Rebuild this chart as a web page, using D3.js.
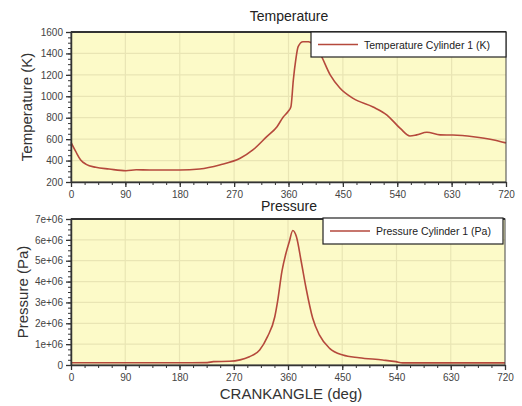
<!DOCTYPE html>
<html>
<head>
<meta charset="utf-8">
<script src="https://cdn.jsdelivr.net/npm/d3@7"></script>
<style>
  body { margin: 0; background: #fff; }
  svg text { font-family: "Liberation Sans", Arial, sans-serif; }
</style>
</head>
<body>
<svg id="chart" width="522" height="406"></svg>
<script>
// crank angle / temperature
const tempAngle = [0, 8, 16, 25, 41, 63, 91, 108, 130, 180, 213, 246, 280, 301, 324, 341, 351, 359, 364, 368, 372, 376, 384, 393, 400, 412, 429, 445, 467, 500, 523, 545, 561, 572, 589, 611, 632, 666, 698, 720];
const tempValue = [570, 483, 405, 365, 337, 321, 305, 314, 312, 312, 322, 359, 421, 499, 623, 716, 804, 856, 903, 1152, 1339, 1463, 1509, 1509, 1490, 1400, 1200, 1077, 980, 900, 825, 700, 630, 640, 665, 640, 638, 622, 595, 565];

// crank angle / pressure
const presAngle = [0, 100, 200, 226, 236, 263, 296, 313, 326, 338, 343, 350, 357, 362, 368, 374, 382, 390, 401, 412, 429, 451, 478, 517, 539, 550, 600, 720];
const presValue = [1.1e5, 1.1e5, 1.1e5, 1.15e5, 1.6e5, 1.8e5, 4.0e5, 7.2e5, 1.36e6, 2.3e6, 3.1e6, 4.5e6, 5.4e6, 5.9e6, 6.45e6, 6.15e6, 4.95e6, 3.68e6, 2.24e6, 1.44e6, 8.0e5, 4.8e5, 3.5e5, 2.4e5, 1.6e5, 1.0e5, 1.0e5, 1.0e5];

const xTicks = [0, 90, 180, 270, 360, 450, 540, 630, 720];
const tempTicks = [200, 400, 600, 800, 1000, 1200, 1400, 1600];
const presTicks = [0, 1e6, 2e6, 3e6, 4e6, 5e6, 6e6, 7e6];
const presTickLabels = ["0", "1e+06", "2e+06", "3e+06", "4e+06", "5e+06", "6e+06", "7e+06"];

const svg = d3.select("#chart");
const lineColor = "#b5493c";
const bg = "#fcfac8";
const gridColor = "#e9e5b4";

function panel(opts) {
    const { top, bottom, left, right, yDomain, yTicks, yMinorStep, yFormat, xs, ys, title, titleY, yLabel, yLabelX, legend, legendBox } = opts;
    const x = d3.scaleLinear().domain([0, 720]).range([left, right]);
    const y = d3.scaleLinear().domain(yDomain).range([bottom, top]);
    const g = svg.append("g");

    g.append("rect")
        .attr("x", left).attr("y", top)
        .attr("width", right - left).attr("height", bottom - top)
        .attr("fill", bg);

    // faint grid
    g.selectAll(".vg").data(xTicks.slice(1, -1)).enter().append("line")
        .attr("x1", d => x(d)).attr("x2", d => x(d))
        .attr("y1", top).attr("y2", bottom)
        .attr("stroke", gridColor).attr("stroke-width", 1.2);
    g.selectAll(".hg").data(yTicks.slice(1, -1)).enter().append("line")
        .attr("x1", left).attr("x2", right)
        .attr("y1", d => y(d)).attr("y2", d => y(d))
        .attr("stroke", gridColor).attr("stroke-width", 1.2);

    // curve
    const line = d3.line()
        .x((d, i) => x(xs[i]))
        .y(d => y(d))
        .curve(d3.curveMonotoneX);
    g.append("path")
        .datum(ys)
        .attr("d", line)
        .attr("fill", "none")
        .attr("stroke", lineColor)
        .attr("stroke-width", 1.6);

    // frame
    g.append("rect")
        .attr("x", left).attr("y", top)
        .attr("width", right - left).attr("height", bottom - top)
        .attr("fill", "none").attr("stroke", "#444").attr("stroke-width", 1);
    g.append("line")
        .attr("x1", left).attr("x2", right).attr("y1", top).attr("y2", top)
        .attr("stroke", "#333").attr("stroke-width", 2);

    // x axis with minor ticks
    const xMinor = d3.range(0, 720.1, 22.5);
    g.append("g")
        .attr("transform", `translate(0,${bottom})`)
        .call(d3.axisBottom(x).tickValues(xMinor).tickSize(3).tickFormat(""))
        .call(a => a.select(".domain").remove())
        .selectAll("line").attr("stroke", "#333");
    const xa = g.append("g")
        .attr("transform", `translate(0,${bottom})`)
        .call(d3.axisBottom(x).tickValues(xTicks).tickSize(5).tickSizeOuter(0).tickPadding(4));
    xa.select(".domain").attr("stroke", "#333").attr("stroke-width", 1.5);
    xa.selectAll("line").attr("stroke", "#333").attr("stroke-width", 1.3);
    xa.selectAll("text").attr("font-size", 10).attr("fill", "#444");

    // y axis with minor ticks
    const yMinor = d3.range(yDomain[0], yDomain[1] + 1, yMinorStep);
    g.append("g")
        .attr("transform", `translate(${left},0)`)
        .call(d3.axisLeft(y).tickValues(yMinor).tickSize(3).tickFormat(""))
        .call(a => a.select(".domain").remove())
        .selectAll("line").attr("stroke", "#333");
    const ya = g.append("g")
        .attr("transform", `translate(${left},0)`)
        .call(d3.axisLeft(y).tickValues(yTicks).tickSize(5).tickSizeOuter(0).tickPadding(3).tickFormat(yFormat));
    ya.select(".domain").attr("stroke", "#333").attr("stroke-width", 1.5);
    ya.selectAll("line").attr("stroke", "#333").attr("stroke-width", 1.3);
    ya.selectAll("text").attr("font-size", 10).attr("fill", "#444");

    // titles
    svg.append("text")
        .attr("x", 289).attr("y", titleY)
        .attr("text-anchor", "middle")
        .attr("font-size", 14).attr("fill", "#222")
        .text(title);
    svg.append("text")
        .attr("transform", `translate(${yLabelX},${(top + bottom) / 2}) rotate(-90)`)
        .attr("text-anchor", "middle")
        .attr("font-size", 15).attr("fill", "#333")
        .text(yLabel);

    // legend
    const lg = svg.append("g");
    lg.append("rect")
        .attr("x", legendBox.x).attr("y", legendBox.y)
        .attr("width", legendBox.w).attr("height", legendBox.h)
        .attr("fill", "#fff").attr("stroke", "#222").attr("stroke-width", 1.2);
    lg.append("line")
        .attr("x1", legendBox.x + 7).attr("x2", legendBox.x + 47)
        .attr("y1", legendBox.y + legendBox.h / 2).attr("y2", legendBox.y + legendBox.h / 2)
        .attr("stroke", lineColor).attr("stroke-width", 1.6);
    lg.append("text")
        .attr("x", legendBox.x + 53).attr("y", legendBox.y + legendBox.h / 2 + 4)
        .attr("font-size", 10.5).attr("fill", "#222")
        .text(legend);
}

panel({
    top: 32, bottom: 182, left: 71, right: 506,
    yDomain: [200, 1600], yTicks: tempTicks, yMinorStep: 50, yFormat: d3.format("d"),
    xs: tempAngle, ys: tempValue,
    title: "Temperature", titleY: 21,
    yLabel: "Temperature (K)", yLabelX: 32,
    legend: "Temperature Cylinder 1 (K)",
    legendBox: { x: 311, y: 32, w: 195, h: 25 }
});

panel({
    top: 219, bottom: 365, left: 71, right: 505,
    yDomain: [0, 7e6], yTicks: presTicks, yMinorStep: 2.5e5,
    yFormat: (d, i) => presTickLabels[i],
    xs: presAngle, ys: presValue,
    title: "Pressure", titleY: 211,
    yLabel: "Pressure (Pa)", yLabelX: 28,
    legend: "Pressure Cylinder 1 (Pa)",
    legendBox: { x: 323, y: 218, w: 180, h: 26 }
});

svg.append("text")
    .attr("x", 291).attr("y", 399)
    .attr("text-anchor", "middle")
    .attr("font-size", 15).attr("fill", "#333")
    .text("CRANKANGLE (deg)");
</script>
</body>
</html>
